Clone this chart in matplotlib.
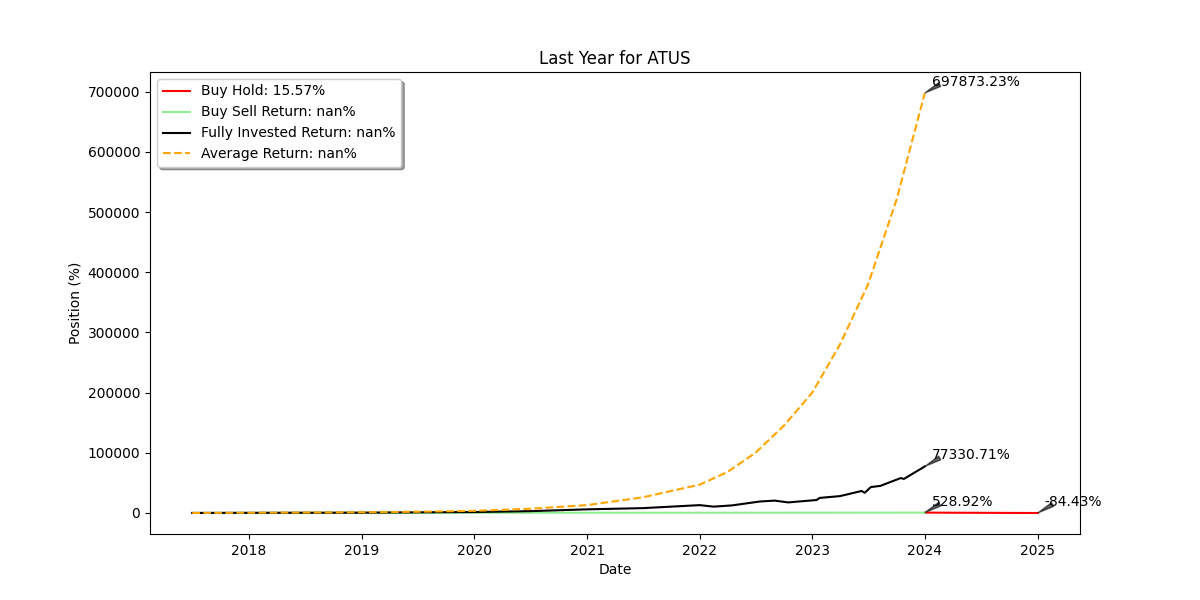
import matplotlib
matplotlib.use("Agg")
from matplotlib import pyplot as plt
import pandas as pd

# orange: average return
avg_dates = ["2017-07-01", "2018-01-01", "2018-07-01", "2019-01-01", "2019-07-01", "2020-01-01",
             "2020-07-01", "2021-01-01", "2021-07-01", "2022-01-01", "2022-04-01", "2022-07-01",
             "2022-10-01", "2023-01-01", "2023-04-01", "2023-07-01", "2023-10-01", "2024-01-01"]
avg_vals = [0, 300, 700, 1200, 2000, 3500, 7000, 13000, 26000, 47000, 68000, 100000,
            145000, 200000, 280000, 380000, 520000, 697873.23]

# black: fully invested return
full_dates = ["2017-07-01", "2019-01-01", "2020-01-01", "2020-07-01", "2021-01-01", "2021-07-01",
              "2022-01-01", "2022-02-15", "2022-04-15", "2022-07-15", "2022-09-01", "2022-10-15",
              "2023-01-15", "2023-01-25", "2023-04-01", "2023-06-10", "2023-06-20", "2023-07-10",
              "2023-08-10", "2023-08-25", "2023-10-15", "2023-10-25", "2024-01-01"]
full_vals = [0, 500, 1500, 3000, 6000, 8000, 13000, 10500, 12500, 19000, 20500, 17500,
             21500, 25000, 28000, 36500, 33500, 43000, 45000, 48000, 58000, 56500, 77330.71]

# green: buy sell return, red: buy hold
bs_dates = ["2017-07-01", "2024-01-01"]
bs_vals = [0, 528.92]
bh_dates = ["2024-01-01", "2025-01-01"]
bh_vals = [528.92, -84.43]

avg_x = pd.to_datetime(avg_dates)
full_x = pd.to_datetime(full_dates)
bs_x = pd.to_datetime(bs_dates)
bh_x = pd.to_datetime(bh_dates)

fig, ax = plt.subplots(figsize=(12, 6), dpi=100)
ax.plot(bh_x, bh_vals, color="red", label="Buy Hold: 15.57%")
ax.plot(bs_x, bs_vals, color="lightgreen", label="Buy Sell Return: nan%")
ax.plot(full_x, full_vals, color="black", label="Fully Invested Return: nan%")
ax.plot(avg_x, avg_vals, color="orange", linestyle="--", label="Average Return: nan%")

def note(x, y):
    ax.annotate("{:.2f}%".format(y), xy=(x, y), xytext=(5, 5), textcoords="offset points",
                arrowprops=dict(facecolor="black", alpha=0.6, shrink=0.05, width=1, headwidth=3))

note(avg_x[-1], avg_vals[-1])
note(full_x[-1], full_vals[-1])
note(bs_x[-1], bs_vals[-1])
note(bh_x[-1], bh_vals[-1])

ax.set_title("Last Year for ATUS")
ax.set_xlabel("Date")
ax.set_ylabel("Position (%)")
ax.legend(loc="upper left", shadow=True)
plt.savefig("out.png")
